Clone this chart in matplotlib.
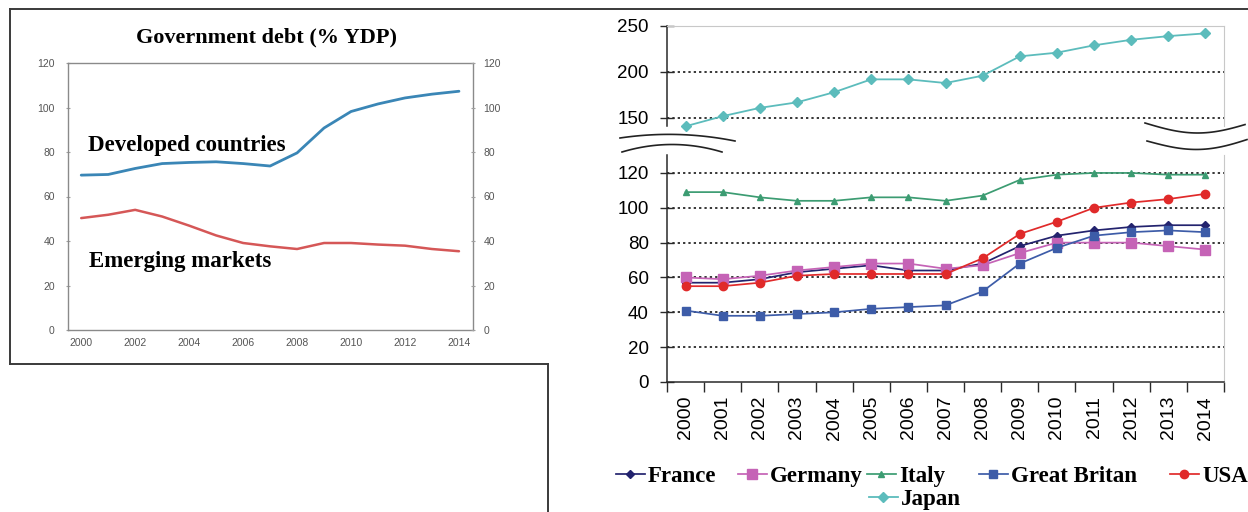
import numpy as np
import matplotlib.pyplot as plt
from matplotlib.lines import Line2D

# ---- data -------------------------------------------------------------
years = list(range(2000, 2015))
developed = [69.6, 69.9, 72.6, 74.8, 75.3, 75.6, 74.8, 73.7, 79.6, 90.8, 98.2, 101.6, 104.3, 106.0, 107.3]
emerging = [50.3, 51.8, 54.0, 51.0, 46.9, 42.5, 39.1, 37.6, 36.4, 39.1, 39.1, 38.4, 37.9, 36.4, 35.4]

year_labels = [str(y) for y in years]
france = [57, 57, 59, 63, 65, 67, 64, 64, 68, 78, 84, 87, 89, 90, 90]
germany = [60, 59, 61, 64, 66, 68, 68, 65, 67, 74, 80, 80, 80, 78, 76]
italy = [109, 109, 106, 104, 104, 106, 106, 104, 107, 116, 119, 120, 120, 119, 119]
britain = [41, 38, 38, 39, 40, 42, 43, 44, 52, 68, 77, 84, 86, 87, 86]
usa = [55, 55, 57, 61, 62, 62, 62, 62, 71, 85, 92, 100, 103, 105, 108]
japan = [141, 152, 161, 167, 178, 192, 192, 188, 196, 217, 221, 229, 235, 239, 242]

# ---- figure -----------------------------------------------------------
W, H = 1248, 512
fig = plt.figure(figsize=(W / 100, H / 100), dpi=100)
fig.patch.set_facecolor("white")


def box(x0, y0, x1, y1):
    """Axes rectangle from pixel corners (top-left origin)."""
    return [x0 / W, 1 - y1 / H, (x1 - x0) / W, (y1 - y0) / H]


def fline(xs, ys, **kw):
    xs = np.asarray(xs, float) / W
    ys = 1 - np.asarray(ys, float) / H
    fig.add_artist(Line2D(xs, ys, transform=fig.transFigure, **kw))


serif = ["Liberation Serif", "DejaVu Serif"]
sans = ["Liberation Sans", "DejaVu Sans"]

# ---- frame around the left panel -------------------------------------
frame_kw = dict(color="#3a3a3a", lw=1.4)
fline([10, W], [9, 9], **frame_kw)
fline([10, 10], [9, 364], **frame_kw)
fline([10, 548], [364, 364], **frame_kw)
fline([548, 548], [364, H], **frame_kw)

# ---- left panel: aggregate debt --------------------------------------
axL = fig.add_axes(box(68, 63, 473, 330))
axL.plot(years, developed, color="#3a86b6", lw=2.0, solid_capstyle="round")
axL.plot(years, emerging, color="#d55757", lw=1.8, solid_capstyle="round")
axL.set_xlim(1999.51, 2014.52)
axL.set_ylim(0, 120)
axL.set_xticks(range(2000, 2015, 2))
axL.set_yticks(range(0, 121, 20))
for s in axL.spines.values():
    s.set_color("#8a8a8a")
    s.set_linewidth(1.0)
axL.tick_params(axis="both", labelsize=7.5, labelcolor="#555555", color="#a0a0a0",
                length=3, direction="inout", pad=8)
axL.tick_params(axis="x", length=0, pad=6)
for lab in axL.get_xticklabels() + axL.get_yticklabels():
    lab.set_family(sans)

axR = axL.twinx()
axR.set_ylim(0, 120)
axR.set_yticks(range(0, 121, 20))
axR.tick_params(axis="y", labelsize=7.5, labelcolor="#555555", color="#a0a0a0",
                length=3, direction="inout", pad=6)
for s in axR.spines.values():
    s.set_visible(False)
for lab in axR.get_yticklabels():
    lab.set_family(sans)

fig.text(267 / W, 1 - 37 / H, "Government debt (% YDP)", ha="center", va="center",
         family=serif, weight="bold", fontsize=16)
axL.text(2000.25, 83, "Developed countries", ha="left", va="center",
         family=serif, weight="bold", fontsize=16.5)
axL.text(2000.3, 30.7, "Emerging markets", ha="left", va="center",
         family=serif, weight="bold", fontsize=16.5)

# ---- right panel: country debt with a broken axis ---------------------
x = np.arange(len(year_labels))
grid_kw = dict(color="black", lw=1.1, linestyle=(0, (1.5, 2)))
light = "#c8c8c8"

axU = fig.add_axes(box(667, 26, 1224, 126))
axD = fig.add_axes(box(667, 155, 1224, 382))
for a in (axU, axD):
    a.set_xlim(-0.5, len(year_labels) - 0.5)
    a.spines["left"].set_color("#2a2a2a")
    a.spines["left"].set_linewidth(1.1)
    a.spines["top"].set_color(light)
    a.spines["right"].set_color(light)
    a.tick_params(axis="y", labelsize=13.5, direction="inout", length=10, width=1.0,
                  color="#2a2a2a", pad=8)

axU.set_ylim(141.3, 250)
axU.set_yticks([150, 200, 250])
axU.spines["bottom"].set_visible(False)
axU.set_xticks([])
for v in (150, 200):
    axU.axhline(v, zorder=1, **grid_kw)
axU.plot(x, japan, color="#5cbcbc", lw=1.3, marker="D", ms=5.5, clip_on=False, zorder=3)

axD.set_ylim(0, 130.3)
axD.set_yticks(range(0, 121, 20))
axD.spines["top"].set_visible(False)
axD.spines["bottom"].set_color("#2a2a2a")
axD.spines["bottom"].set_linewidth(1.1)
for v in range(20, 121, 20):
    axD.axhline(v, zorder=1, **grid_kw)
axD.set_xticks(x)
axD.set_xticklabels(year_labels, rotation=90, fontsize=14)
axD.set_xticks(np.arange(-0.5, len(year_labels)), minor=True)
axD.tick_params(axis="x", which="major", length=0, pad=10)
axD.tick_params(axis="x", which="minor", length=7, width=1.0, direction="out",
                color="#2a2a2a")
for lab in axU.get_yticklabels() + axD.get_yticklabels() + axD.get_xticklabels():
    lab.set_family(sans)

series = [
    ("France", france, "#23236e", "D", 4.5),
    ("Germany", germany, "#c563b6", "s", 6.5),
    ("Italy", italy, "#3c9c72", "^", 5),
    ("Great Britan", britain, "#3d5ca8", "s", 6),
    ("USA", usa, "#e02a2a", "o", 6),
]
handles = []
for name, vals, col, mk, ms in series:
    h, = axD.plot(x, vals, color=col, lw=1.25, marker=mk, ms=ms, label=name,
                  clip_on=False, zorder=3)
    handles.append(h)
jh = Line2D([], [], color="#5cbcbc", lw=1.3, marker="D", ms=5.5, label="Japan")

# break marks between the two axes
t = np.linspace(0, 1, 40)
fline(620 + 115 * t, 138 - 20 * t * (1 - t) + 3 * t, color="#222", lw=1.2)
fline(622 + 100 * t, 152 - 30 * t * (1 - t), color="#222", lw=1.2)
fline(1145 + 100 * t, 123 + 10 * np.sin(np.pi * t * 0.95), color="#222", lw=1.2)
fline(1147 + 100 * t, 141 + 10 * np.sin(np.pi * t * 0.95) - 3 * t, color="#222", lw=1.2)

# legend entries, each placed at its own slot
leg_kw = dict(frameon=False, prop={"family": serif, "weight": "bold", "size": 16.5},
              handlelength=1.25, handletextpad=0.15, borderpad=0, borderaxespad=0)
slots = [(616, 476), (738, 476), (867, 476), (979, 476), (1170, 476)]
for h, (sx, sy) in zip(handles, slots):
    fig.legend(handles=[h], loc="center left", bbox_to_anchor=(sx / W, 1 - sy / H), **leg_kw)
fig.legend(handles=[jh], loc="center left", bbox_to_anchor=(869 / W, 1 - 499 / H), **leg_kw)

fig.savefig("out.png", dpi=100, facecolor="white")
